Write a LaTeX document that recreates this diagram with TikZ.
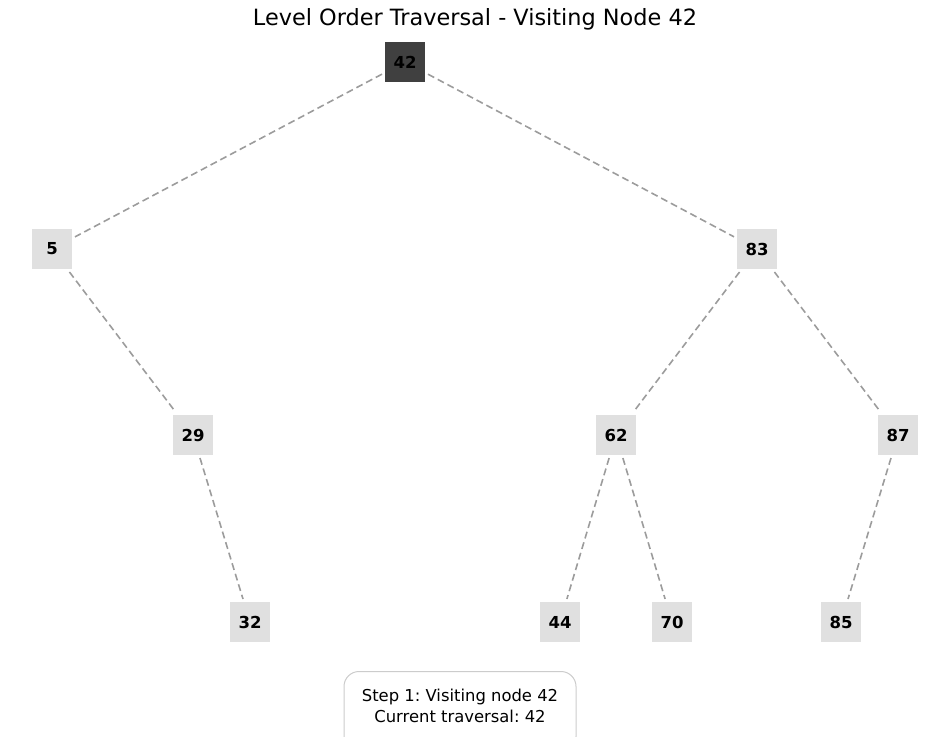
\documentclass[tikz,border=0pt]{standalone}
\usepackage{fontspec}
\setmainfont{DejaVu Sans}
\frenchspacing
\begin{document}
\begin{tikzpicture}[x=1pt,y=-1pt,
  tnode/.style={minimum width=40pt,minimum height=40pt,inner sep=0pt,outer sep=3pt,fill=lightgray,font=\fontsize{16.5}{20}\selectfont\bfseries,text=black},
  cur/.style={tnode,fill=darkgray},
  edge/.style={draw=edgegray,dash pattern=on 7pt off 4pt,line width=1.6pt}]
\definecolor{lightgray}{HTML}{E0E0E0}
\definecolor{darkgray}{HTML}{404040}
\definecolor{edgegray}{HTML}{9C9C9C}
\definecolor{boxgray}{HTML}{CCCCCC}
\useasboundingbox (0,0) rectangle (950,736);
\node[font=\fontsize{22.4}{26}\selectfont] (title) at (475,19) {Level Order Traversal - Visiting Node 42};
\node[cur] (n42) at (405,62) {42};
\node[tnode] (n5) at (52,249) {5};
\node[tnode] (n83) at (757,249) {83};
\node[tnode] (n29) at (193,435) {29};
\node[tnode] (n62) at (616,435) {62};
\node[tnode] (n87) at (898,435) {87};
\node[tnode] (n32) at (250,622) {32};
\node[tnode] (n44) at (560,622) {44};
\node[tnode] (n70) at (672,622) {70};
\node[tnode] (n85) at (841,622) {85};
\draw[edge] (n42) -- (n5);
\draw[edge] (n42) -- (n83);
\draw[edge] (n5) -- (n29);
\draw[edge] (n29) -- (n32);
\draw[edge] (n83) -- (n62);
\draw[edge] (n83) -- (n87);
\draw[edge] (n62) -- (n44);
\draw[edge] (n62) -- (n70);
\draw[edge] (n87) -- (n85);
\node[draw=boxgray,line width=1pt,rounded corners=15pt,minimum width=232pt,minimum height=80pt,anchor=north,fill=white] (info) at (460,671) {};
\node[align=center,font=\fontsize{16.4}{20.5}\selectfont] (infotext) at (460,706) {Step 1: Visiting node 42\\Current traversal: 42};
\end{tikzpicture}
\end{document}
